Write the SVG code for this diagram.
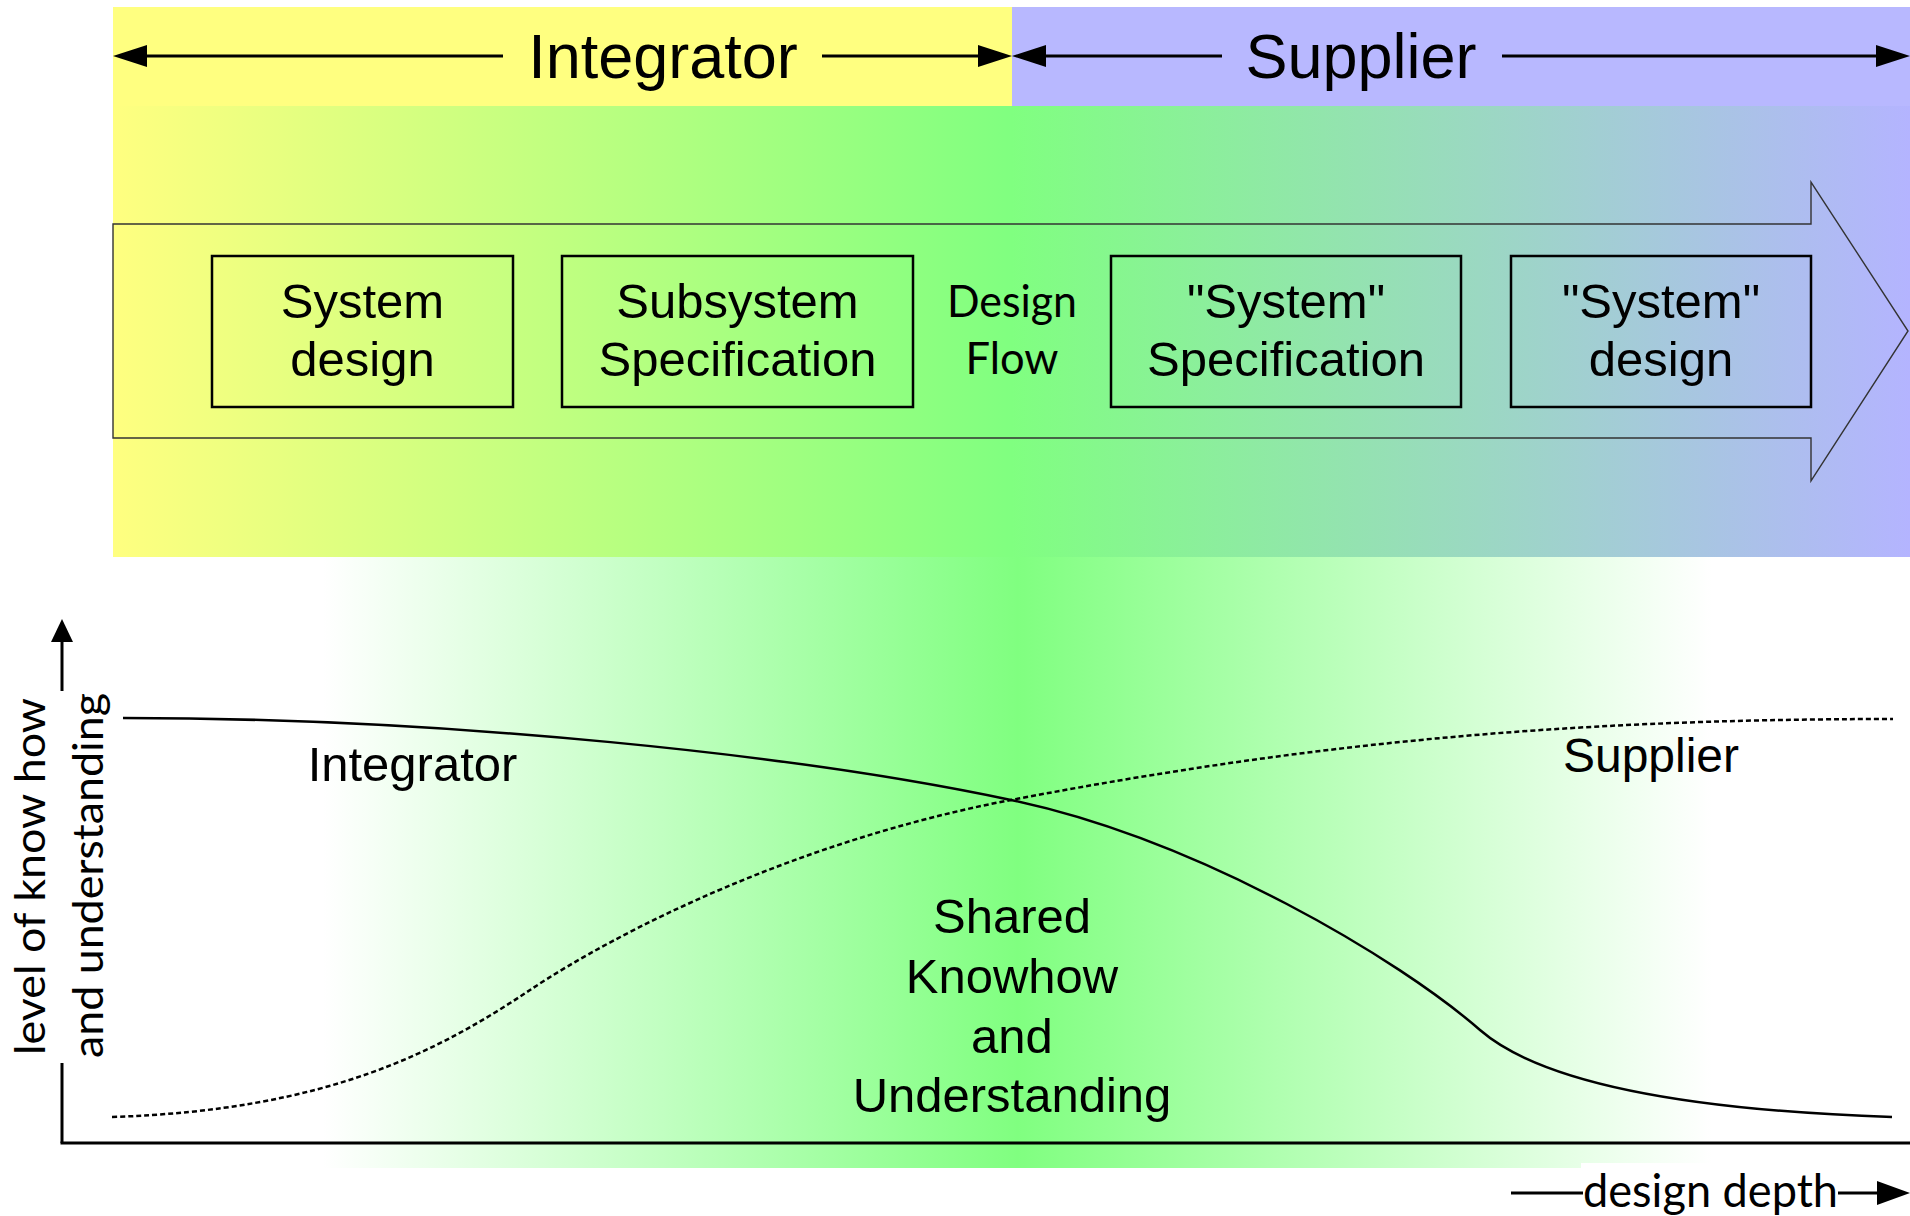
<svg xmlns="http://www.w3.org/2000/svg" width="1910" height="1216" viewBox="0 0 1910 1216">
<defs>
<linearGradient id="gTop" x1="113" y1="0" x2="1910" y2="0" gradientUnits="userSpaceOnUse">
<stop offset="0" stop-color="#ffff80"/>
<stop offset="0.5" stop-color="#80ff80"/>
<stop offset="1" stop-color="#b4b4ff"/>
</linearGradient>
<linearGradient id="gBottom" x1="323" y1="0" x2="1712" y2="0" gradientUnits="userSpaceOnUse">
<stop offset="0" stop-color="#ffffff"/>
<stop offset="0.5" stop-color="#80ff80"/>
<stop offset="1" stop-color="#ffffff"/>
</linearGradient>
<style>
.arial{font-family:"Liberation Sans",Arial,sans-serif;fill:#000}
.cal{font-family:Lato,"Open Sans",sans-serif;fill:#000}
.box{fill:none;stroke:#000;stroke-width:2.5}
.ln{stroke:#000;stroke-width:3;fill:none}
.head{fill:#000;stroke:none}
</style>
</defs>
<rect width="1910" height="1216" fill="#fff"/>

<g id="band-integrator">
<rect x="113" y="7" width="899" height="99" fill="#ffff80"/>
<text class="arial" x="663" y="78" font-size="63" text-anchor="middle">Integrator</text>
</g>
<g id="band-supplier">
<rect x="1012" y="7" width="898" height="99" fill="#b8b8ff"/>
<text class="arial" x="1361" y="78" font-size="63" text-anchor="middle">Supplier</text>
</g>

<rect id="flow-background" x="113" y="106" width="1797" height="451" fill="url(#gTop)"/>
<rect id="shared-background" x="323" y="557" width="1389" height="611" fill="url(#gBottom)"/>
<rect x="1581" y="1163" width="262" height="53" fill="#fff"/>

<g id="flow-arrow">
<polygon points="113,224 1811,224 1811,182 1908,331 1811,481 1811,438 113,438" fill="none" stroke="#333" stroke-width="1.4"/>
<text class="cal" x="1012" y="317" font-size="44" text-anchor="middle" textLength="130" lengthAdjust="spacingAndGlyphs">Design</text>
<text class="cal" x="1012" y="374" font-size="44" text-anchor="middle" textLength="93" lengthAdjust="spacingAndGlyphs">Flow</text>
</g>

<g id="node-system-design">
<rect class="box" x="212" y="256" width="301" height="151"/>
<text class="arial" x="362.5" y="318" font-size="49" text-anchor="middle">System</text>
<text class="arial" x="362.5" y="376" font-size="49" text-anchor="middle">design</text>
</g>
<g id="node-subsystem-specification">
<rect class="box" x="562" y="256" width="351" height="151"/>
<text class="arial" x="737.5" y="318" font-size="49" text-anchor="middle">Subsystem</text>
<text class="arial" x="737.5" y="376" font-size="49" text-anchor="middle">Specification</text>
</g>
<g id="node-system-specification-supplier">
<rect class="box" x="1111" y="256" width="350" height="151"/>
<text class="arial" x="1286" y="318" font-size="49" text-anchor="middle">"System"</text>
<text class="arial" x="1286" y="376" font-size="49" text-anchor="middle">Specification</text>
</g>
<g id="node-system-design-supplier">
<rect class="box" x="1511" y="256" width="300" height="151"/>
<text class="arial" x="1661" y="318" font-size="49" text-anchor="middle">"System"</text>
<text class="arial" x="1661" y="376" font-size="49" text-anchor="middle">design</text>
</g>

<g id="connectors">
<line class="ln" x1="145" y1="56" x2="503" y2="56"/>
<polygon class="head" points="113,56 147,45 147,67"/>
<line class="ln" x1="822" y1="56" x2="980" y2="56"/>
<polygon class="head" points="1012,56 978,45 978,67"/>
<line class="ln" x1="1044" y1="56" x2="1222" y2="56"/>
<polygon class="head" points="1012,56 1046,45 1046,67"/>
<line class="ln" x1="1502" y1="56" x2="1878" y2="56"/>
<polygon class="head" points="1910,56 1876,45 1876,67"/>

<line class="ln" x1="62" y1="1143" x2="62" y2="1063"/>
<line class="ln" x1="62" y1="691" x2="62" y2="640"/>
<polygon class="head" points="62,619 51,642 73,642"/>
<line class="ln" x1="60.5" y1="1143" x2="1910" y2="1143"/>

<line class="ln" x1="1511" y1="1193" x2="1583" y2="1193"/>
<line class="ln" x1="1838" y1="1193" x2="1879" y2="1193"/>
<polygon class="head" points="1910,1193 1877,1181 1877,1205"/>
</g>

<g id="curve-integrator">
<path d="M123,718 C450,718 800,755 1011,800 C1200,840 1400,960 1480,1030 C1540,1082 1680,1110 1892,1117" fill="none" stroke="#000" stroke-width="2.5"/>
<text class="arial" x="412.5" y="781" font-size="49" text-anchor="middle">Integrator</text>
</g>
<g id="curve-supplier">
<path d="M112,1117 C330,1110 440,1050 530,990 C620,930 800,840 1011,800 C1300,745 1550,719 1893,719" fill="none" stroke="#000" stroke-width="2.5" stroke-dasharray="5 3"/>
<text class="arial" x="1651" y="772" font-size="48" text-anchor="middle">Supplier</text>
</g>

<g id="label-shared">
<text class="arial" x="1012" y="933" font-size="49" text-anchor="middle">Shared</text>
<text class="arial" x="1012" y="993" font-size="49" text-anchor="middle">Knowhow</text>
<text class="arial" x="1012" y="1053" font-size="49" text-anchor="middle">and</text>
<text class="arial" x="1012" y="1112" font-size="49" text-anchor="middle">Understanding</text>
</g>

<g id="axis-labels">
<text class="cal" transform="translate(45,876.5) rotate(-90)" x="0" y="0" font-size="43" text-anchor="middle" textLength="357" lengthAdjust="spacingAndGlyphs">level of know how</text>
<text class="cal" transform="translate(103,875.5) rotate(-90)" x="0" y="0" font-size="43" text-anchor="middle" textLength="365" lengthAdjust="spacingAndGlyphs">and understanding</text>
<text class="cal" x="1710.5" y="1207" font-size="46" text-anchor="middle" textLength="255" lengthAdjust="spacingAndGlyphs">design depth</text>
</g>
</svg>
